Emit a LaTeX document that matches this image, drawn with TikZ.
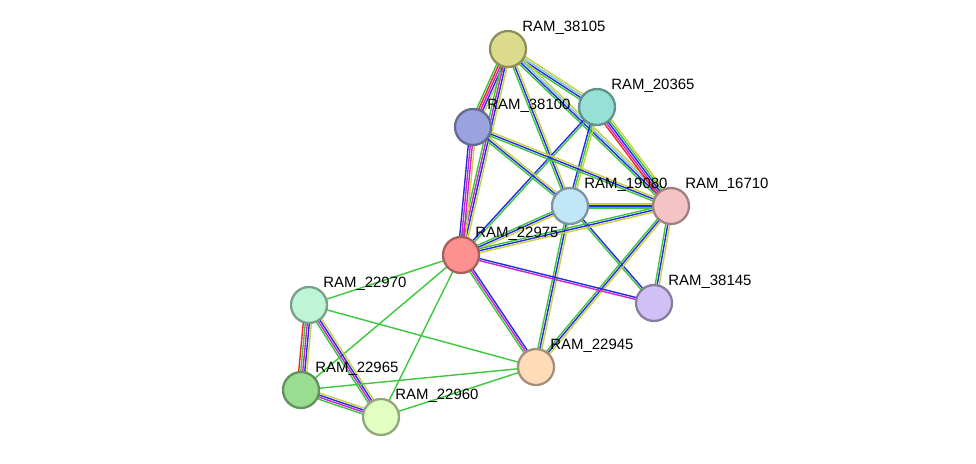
\documentclass[tikz,border=0pt]{standalone}
\usepackage{fontspec}
\setmainfont{Liberation Sans}
\usetikzlibrary{calc}
\usetikzlibrary{backgrounds}

\definecolor{cgreen}{RGB}{60,200,60}
\definecolor{cblue}{RGB}{40,40,230}
\definecolor{cred}{RGB}{240,40,40}
\definecolor{cmag}{RGB}{200,40,200}
\definecolor{cyel}{RGB}{200,210,60}
\definecolor{ccyan}{RGB}{120,200,230}

\definecolor{f38105}{RGB}{220,220,140}
\definecolor{f20365}{RGB}{150,224,214}
\definecolor{f38100}{RGB}{154,163,224}
\definecolor{f19080}{RGB}{192,230,248}
\definecolor{f16710}{RGB}{244,196,196}
\definecolor{f22975}{RGB}{255,144,144}
\definecolor{f38145}{RGB}{208,192,245}
\definecolor{f22970}{RGB}{189,245,214}
\definecolor{f22945}{RGB}{255,220,184}
\definecolor{f22965}{RGB}{153,221,144}
\definecolor{f22960}{RGB}{224,255,192}

% one line per evidence colour, side by side
\newcommand{\link}[3]{%
  \foreach \c [count=\n] in {#3} {\xdef\nlines{\n}}
  \foreach \c [count=\i] in {#3} {
    \pgfmathsetmacro\off{(\i-(\nlines+1)/2)*1.15}
    \draw[\c, line width=0.8pt] ($(#1.center)!\off pt!90:(#2.center)$) -- ($(#2.center)!\off pt!-90:(#1.center)$);
  }
}

\begin{document}
\begin{tikzpicture}[x=0.02cm, y=-0.02cm,
    prot/.style={circle, minimum size=0.72cm, inner sep=0pt, line width=1.3pt, fill=#1, draw=#1!65!black},
    lbl/.style={font=\fontsize{8.5}{10}\selectfont, inner sep=1pt, label distance=-1pt}]
  \useasboundingbox (0,0) rectangle (976,463);

  \node[prot=f38105, label={[lbl]45:RAM\_38105}] (38105) at (508,49) {};
  \node[prot=f20365, label={[lbl]45:RAM\_20365}] (20365) at (597,107) {};
  \node[prot=f38100, label={[lbl]45:RAM\_38100}] (38100) at (473,127) {};
  \node[prot=f19080, label={[lbl]45:RAM\_19080}] (19080) at (570,206) {};
  \node[prot=f16710, label={[lbl]45:RAM\_16710}] (16710) at (671,206) {};
  \node[prot=f22975, label={[lbl]45:RAM\_22975}] (22975) at (461,255) {};
  \node[prot=f38145, label={[lbl]45:RAM\_38145}] (38145) at (654,303) {};
  \node[prot=f22970, label={[lbl]45:RAM\_22970}] (22970) at (309,305) {};
  \node[prot=f22945, label={[lbl]45:RAM\_22945}] (22945) at (536,367) {};
  \node[prot=f22965, label={[lbl]45:RAM\_22965}] (22965) at (301,390) {};
  \node[prot=f22960, label={[lbl]45:RAM\_22960}] (22960) at (381,417) {};

  \begin{pgfonlayer}{background}
    \link{38105}{20365}{cgreen,cblue,ccyan,cyel}
    \link{38105}{38100}{cgreen,cred,cmag,cblue,cyel}
    \link{38105}{19080}{cgreen,cblue,cyel}
    \link{38105}{16710}{cgreen,cblue,ccyan,cyel}
    \link{38105}{22975}{cgreen,cmag,cblue,cyel}
    \link{20365}{16710}{cred,cmag,cblue,cgreen,cyel}
    \link{20365}{19080}{cblue,cgreen,cyel}
    \link{20365}{22975}{cblue,cgreen}
    \link{38100}{22975}{cblue,cmag,cmag,cyel}
    \link{38100}{19080}{cgreen,cblue,cyel}
    \link{38100}{16710}{cgreen,cblue,cyel}
    \link{19080}{16710}{cgreen,cblue,cyel}
    \link{19080}{22975}{cgreen,cblue,cyel}
    \link{19080}{38145}{cgreen,cblue}
    \link{19080}{22945}{cgreen,cblue,cyel}
    \link{16710}{22975}{cgreen,cblue,cyel}
    \link{16710}{38145}{cgreen,cblue,cyel}
    \link{16710}{22945}{cgreen,cblue,cyel}
    \link{22975}{38145}{cmag,cblue}
    \link{22975}{22945}{cgreen,cmag,cblue}
    \link{22975}{22970}{cgreen}
    \link{22975}{22965}{cgreen}
    \link{22975}{22960}{cgreen}
    \link{22970}{22945}{cgreen}
    \link{22970}{22965}{cred,cgreen,cmag,cblue,cyel}
    \link{22970}{22960}{cgreen,cmag,cblue,cyel}
    \link{22965}{22960}{cgreen,cmag,cblue,cyel}
    \link{22965}{22945}{cgreen}
    \link{22960}{22945}{cgreen}
  \end{pgfonlayer}
\end{tikzpicture}
\end{document}
